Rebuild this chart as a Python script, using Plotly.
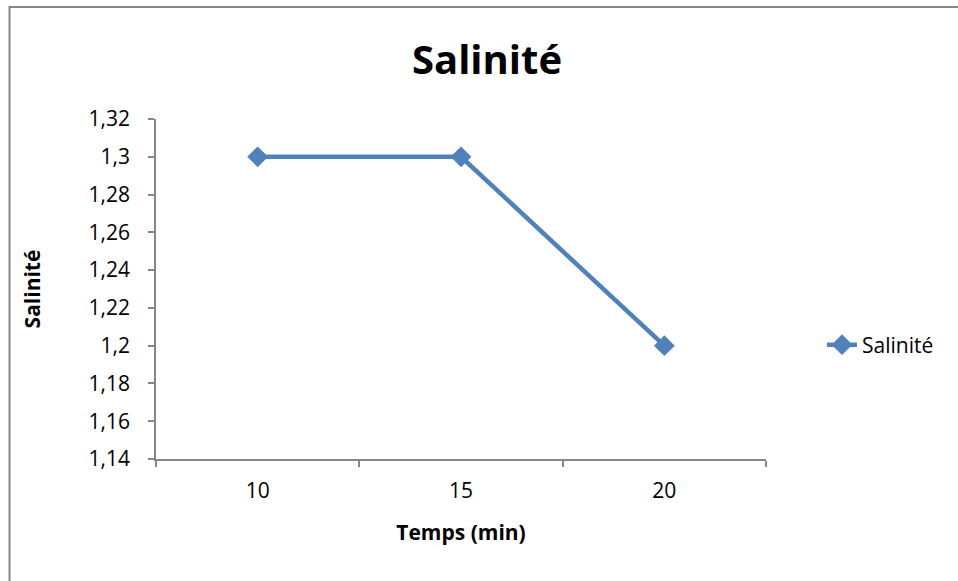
import plotly.graph_objects as go

categories = ["10", "15", "20"]
salinite = [1.3, 1.3, 1.2]
y_ticks = [1.14, 1.16, 1.18, 1.20, 1.22, 1.24, 1.26, 1.28, 1.30, 1.32]

BLUE = "#4F81BD"
AXIS = "#868686"
FONT = "Open Sans"

fig = go.Figure()
fig.add_trace(go.Scatter(
    x=categories, y=salinite, mode="lines+markers", name="Salinité",
    line=dict(color=BLUE, width=4.5),
    marker=dict(symbol="diamond", size=16, color=BLUE),
))

L, R, T, B = 156, 958 - 766, 119, 581 - 459
PW, PH = 958 - L - R, 581 - T - B

fig.update_layout(
    width=958, height=581,
    margin=dict(l=L, r=R, t=T, b=B),
    paper_bgcolor="white", plot_bgcolor="white",
    separators=", ",
    font=dict(family=FONT, size=21, color="black"),
    title=dict(text="<b>Salinité</b>", font=dict(size=40, family=FONT, color="black"),
               x=487 / 958, xref="container", xanchor="center",
               y=1 - 60 / 581, yref="container", yanchor="middle"),
    showlegend=True,
    legend=dict(x=(822 - L) / PW, y=(459 - 345) / PH, xanchor="left", yanchor="middle",
                font=dict(size=21, family=FONT), bgcolor="rgba(0,0,0,0)",
                itemwidth=30),
    xaxis=dict(type="category", range=[-0.5, 2.5], showgrid=False, zeroline=False,
               showline=True, linecolor=AXIS, linewidth=1.5,
               ticks="outside", tickson="boundaries", ticklen=6, tickcolor=AXIS, tickwidth=1.5,
               tickfont=dict(size=21), ticklabelstandoff=12,
               title=dict(text="<b>Temps (min)</b>", font=dict(size=21), standoff=22)),
    yaxis=dict(range=[1.14, 1.32], tickvals=y_ticks, showgrid=False, zeroline=False,
               showline=True, linecolor=AXIS, linewidth=1.5,
               ticks="outside", ticklen=6, tickcolor=AXIS, tickwidth=1.5,
               tickfont=dict(size=21), ticklabelstandoff=14,
               title=dict(text="<b>Salinité</b>", font=dict(size=21), standoff=42)),
)

bx0 = (9.5 - L) / PW
by1 = (459 - 7) / PH
fig.add_shape(type="rect", xref="paper", yref="paper", x0=bx0, x1=2.0, y0=-1.0, y1=by1,
              line=dict(color="#878787", width=2), fillcolor="rgba(0,0,0,0)", layer="below")

fig.write_html("out.html")
